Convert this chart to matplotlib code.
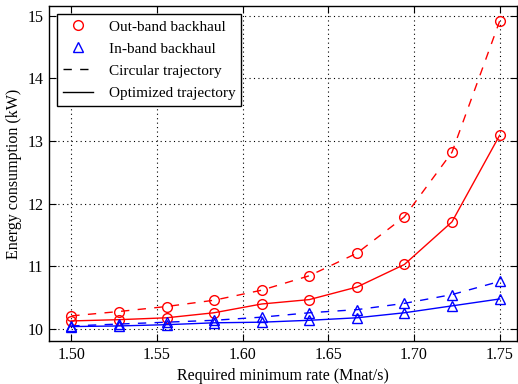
import matplotlib
matplotlib.use('Agg')
import matplotlib.pyplot as plt
from matplotlib.lines import Line2D

plt.rcParams['font.family'] = ['Liberation Serif', 'DejaVu Serif']
plt.rcParams['mathtext.fontset'] = 'stix'
plt.rcParams['lines.dashed_pattern'] = [6, 6]

rate = [1.5, 1.5278, 1.5556, 1.5833, 1.6111, 1.6389, 1.6667, 1.6944, 1.7222, 1.75]

out_circ = [10.21, 10.28, 10.36, 10.46, 10.62, 10.85, 11.21, 11.79, 12.82, 14.91]
out_opt = [10.13, 10.15, 10.18, 10.26, 10.40, 10.47, 10.67, 11.03, 11.71, 13.09]
in_circ = [10.05, 10.08, 10.11, 10.14, 10.19, 10.26, 10.31, 10.41, 10.55, 10.76]
in_opt = [10.04, 10.05, 10.07, 10.10, 10.11, 10.14, 10.18, 10.26, 10.37, 10.48]

xticks = [1.50, 1.55, 1.60, 1.65, 1.70, 1.75]
yticks = [10, 11, 12, 13, 14, 15]

fig = plt.figure(figsize=(5.18, 3.84), dpi=100)
ax = fig.add_axes([0.0946, 0.112, 0.903, 0.872])

mk = dict(markersize=7, markerfacecolor='none', markeredgewidth=1.0, linewidth=1.0)
ax.plot(rate, out_circ, 'r--o', **mk)
ax.plot(rate, out_opt, 'r-o', **mk)
ax.plot(rate, in_circ, 'b--^', **mk)
ax.plot(rate, in_opt, 'b-^', **mk)

ax.set_xlim(1.487, 1.76)
ax.set_ylim(9.81, 15.15)
ax.set_xticks(xticks)
ax.set_xticklabels(['%.2f' % x for x in xticks])
ax.set_yticks(yticks)
ax.tick_params(direction='in', top=True, right=True, labelsize=11.5, length=5, pad=4)
ax.grid(True, color='black', linestyle=(0, (1, 3)), linewidth=0.8)
ax.set_xlabel('Required minimum rate (Mnat/s)', fontsize=11.5)
ax.set_ylabel('Energy consumption (kW)', fontsize=11.5)
for s in ax.spines.values():
    s.set_linewidth(1.0)

handles = [
    Line2D([], [], color='r', marker='o', linestyle='none', markersize=7, markerfacecolor='none'),
    Line2D([], [], color='b', marker='^', linestyle='none', markersize=7, markerfacecolor='none'),
    Line2D([], [], color='k', linestyle='--', linewidth=1.0),
    Line2D([], [], color='k', linestyle='-', linewidth=1.0),
]
labels = ['Out-band backhaul', 'In-band backhaul', 'Circular trajectory', 'Optimized trajectory']
leg = ax.legend(handles, labels, loc='upper left', fontsize=11, fancybox=False,
                framealpha=1, edgecolor='black', borderaxespad=0.5,
                handlelength=2.0, labelspacing=0.55, handletextpad=1.0)
leg.get_frame().set_linewidth(1.0)

fig.savefig('out.png', dpi=100)
